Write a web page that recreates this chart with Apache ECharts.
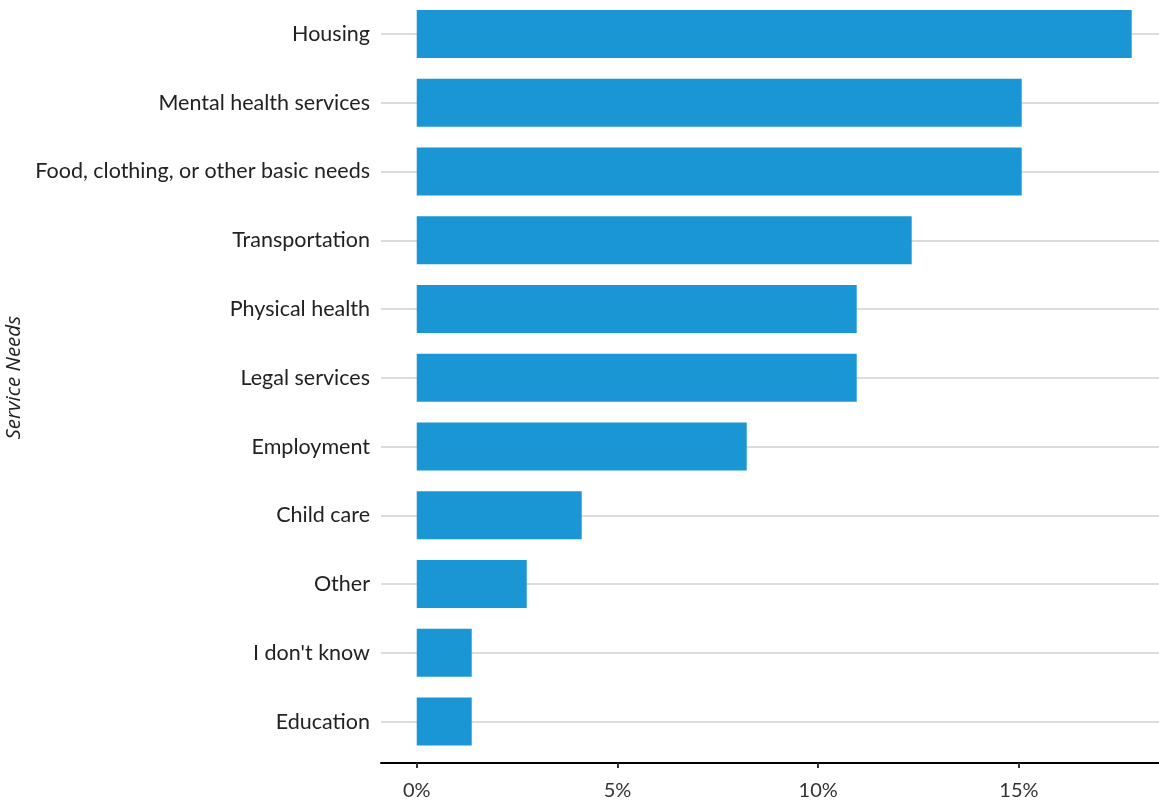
<!DOCTYPE html>
<html>
<head>
<meta charset="utf-8">
<script src="https://cdn.jsdelivr.net/npm/echarts@6/dist/echarts.min.js"></script>
<style>
  html, body { margin: 0; padding: 0; background: #fff; }
  #chart { width: 1159px; height: 804px; }
</style>
</head>
<body>
<div id="chart"></div>
<script>
// service needs, share of respondents (%)
const categories = ['Housing', 'Mental health services', 'Food, clothing, or other basic needs',
  'Transportation', 'Physical health', 'Legal services', 'Employment', 'Child care',
  'Other', "I don't know", 'Education'];
const shares = [17.81, 15.07, 15.07, 12.33, 10.96, 10.96, 8.22, 4.11, 2.74, 1.37, 1.37];
const tickValues = [0, 5, 10, 15];

const chart = echarts.init(document.getElementById('chart'));

const option = {
  animation: false,
  grid: { left: 381, right: 0, top: -0.4, bottom: 48, containLabel: false, outerBoundsMode: 'none' },
  xAxis: {
    type: 'value',
    min: -0.89,
    max: 18.49,
    offset: 7,
    splitLine: { show: false },
    axisLine: { show: true, lineStyle: { color: '#000', width: 2 } },
    axisTick: { show: true, customValues: tickValues, length: 5, lineStyle: { color: '#333', width: 2 } },
    axisLabel: {
      customValues: tickValues,
      formatter: v => v + '%',
      margin: 18,
      fontFamily: 'Lato',
      fontSize: 20,
      color: '#333'
    }
  },
  yAxis: {
    type: 'category',
    data: categories,
    inverse: true,
    axisLine: { show: false },
    axisTick: { show: false },
    splitLine: { show: false },
    axisLabel: { margin: 11, fontFamily: 'Lato', fontSize: 21.5, color: '#222' },
    name: 'Service Needs',
    nameLocation: 'middle',
    nameRotate: 90,
    nameGap: 354,
    nameTextStyle: { fontFamily: 'Open Sans', fontStyle: 'italic', fontSize: 20.5, color: '#222' }
  },
  series: [
    {
      // horizontal guide lines at each category
      type: 'line',
      data: [],
      z: 1,
      silent: true,
      markLine: {
        silent: true,
        z: 1,
        symbol: 'none',
        label: { show: false },
        lineStyle: { color: '#dcdcdc', width: 2, type: 'solid' },
        data: categories.map(c => ({ yAxis: c }))
      }
    },
    {
      type: 'bar',
      data: shares,
      barWidth: 48,
      z: 3,
      itemStyle: { color: '#1a96d4' }
    }
  ]
};

chart.setOption(option);
</script>
</body>
</html>
